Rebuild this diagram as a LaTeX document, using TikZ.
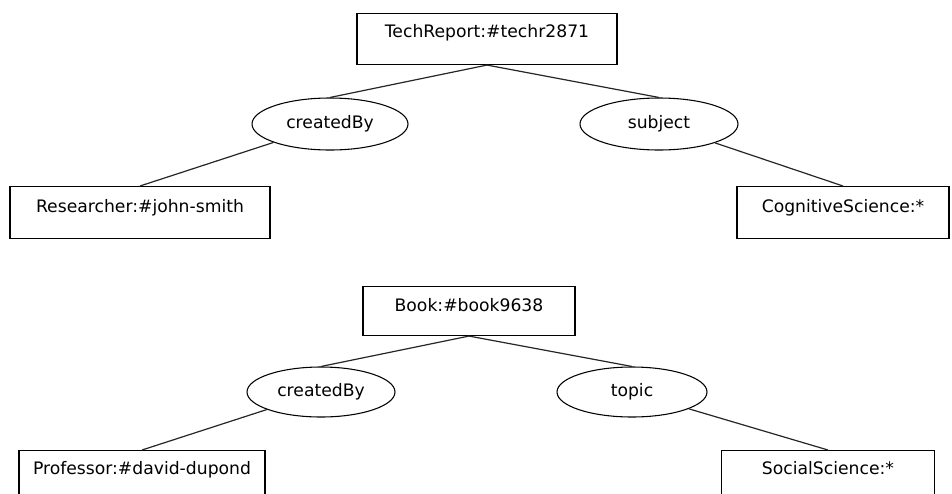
\documentclass[tikz,border=0pt]{standalone}
\usepackage{fontspec}
\setmainfont{DejaVu Sans}
\usetikzlibrary{shapes.geometric}
\begin{document}
\begin{tikzpicture}[x=0.75pt,y=-0.75pt,
  every node/.style={font=\fontsize{12.9}{15}\selectfont},
  ent/.style={draw=black,line width=0.8pt,rectangle,anchor=north,inner xsep=0pt,inner ysep=0pt},
  rel/.style={draw=black,line width=0.8pt,ellipse,inner sep=0pt},
  conn/.style={draw=black!85,line width=0.9pt}]
\useasboundingbox (0,0) rectangle (952,493);
\clip (0,0) rectangle (952,493);
\fill[white] (0,0) rectangle (952,493);
% first graph
\node[ent,minimum width=195pt,text height=18pt,text depth=20.25pt] (tr) at (487,13) {TechReport:\#techr2871};
\node[rel,minimum width=117pt,minimum height=39pt] (cb1) at (330,124) {createdBy};
\node[rel,minimum width=118.5pt,minimum height=39pt] (subj) at (659,124) {subject};
\node[ent,minimum width=195pt,text height=19.5pt,text depth=19.5pt] (res) at (140,186) {Researcher:\#john-smith};
\node[ent,minimum width=159pt,text height=19.5pt,text depth=19.5pt] (cog) at (843,186) {CognitiveScience:*};
\draw[conn] (tr.south) -- (cb1.north);
\draw[conn] (tr.south) -- (subj.north);
\draw[conn] (cb1) -- (res.north);
\draw[conn] (subj) -- (cog.north);
% second graph
\node[ent,minimum width=159pt,text height=18.75pt,text depth=18pt] (bk) at (469,286) {Book:\#book9638};
\node[rel,minimum width=111pt,minimum height=37.5pt] (cb2) at (321,392) {createdBy};
\node[rel,minimum width=112.5pt,minimum height=37.5pt] (top) at (632,392) {topic};
\node[ent,minimum width=184.5pt,text height=18pt,text depth=21pt] (prof) at (142,450) {Professor:\#david-dupond};
\node[ent,minimum width=159.75pt,text height=18pt,text depth=21pt] (soc) at (828,450) {SocialScience:*};
\draw[conn] (bk.south) -- (cb2.north);
\draw[conn] (bk.south) -- (top.north);
\draw[conn] (cb2) -- (prof.north);
\draw[conn] (top) -- (soc.north);
\end{tikzpicture}
\end{document}
